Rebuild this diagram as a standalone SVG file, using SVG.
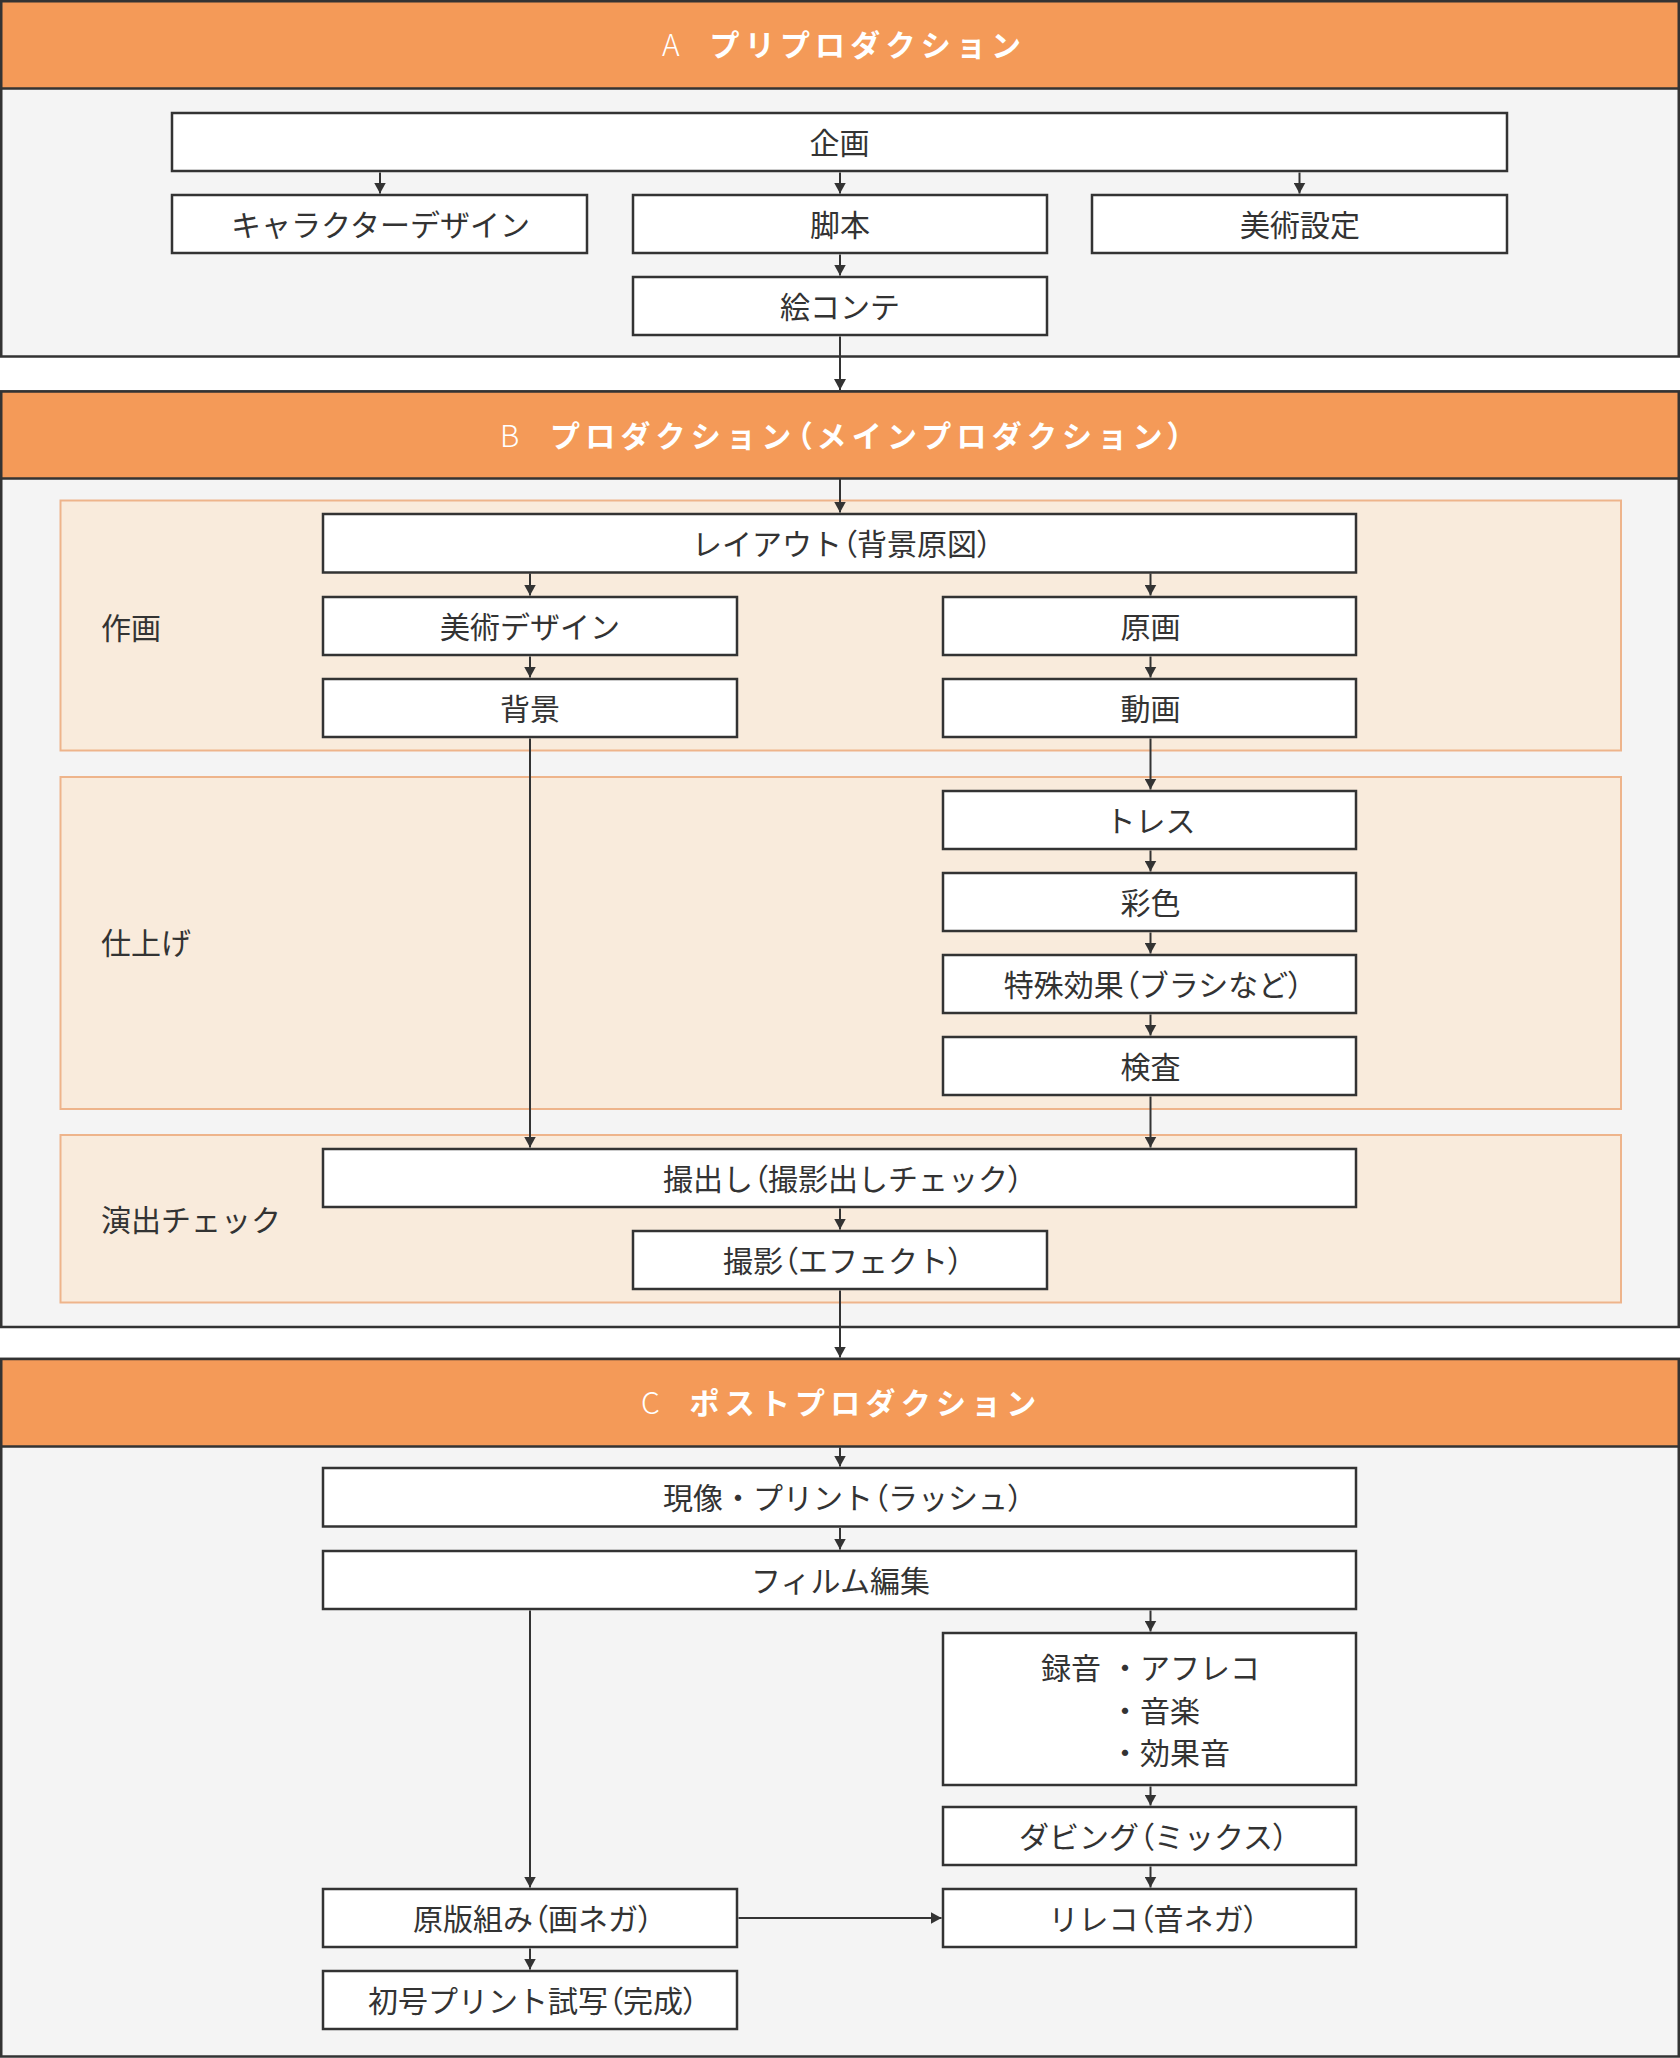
<svg xmlns="http://www.w3.org/2000/svg" width="1680" height="2058" viewBox="0 0 1680 2058">
<defs>
<style>
.frame{fill:#f4f4f4;stroke:#333;stroke-width:2.5}
.head{fill:#f49a58;stroke:#333;stroke-width:2.5}
.band{fill:#f9ebdc;stroke:#eeb48b;stroke-width:2}
.box{fill:#fff;stroke:#333;stroke-width:2.5}
text{font-family:"Noto Sans CJK JP","Noto Sans CJK SC",sans-serif;font-size:30px;fill:#333}
.t{text-anchor:middle;dominant-baseline:central}
.lab{dominant-baseline:central}
.hl{fill:#fff;font-weight:300;dominant-baseline:central}
.hk{fill:#fff;font-weight:700;letter-spacing:5.2px;dominant-baseline:central}
.h{font-feature-settings:"palt"}
.conn path{fill:none;stroke:#333;stroke-width:2;marker-end:url(#arr)}
</style>
<marker id="arr" markerUnits="userSpaceOnUse" markerWidth="12" markerHeight="12" refX="11" refY="6" orient="auto">
<path d="M0,0 L11,6 L0,12 z" fill="#333"/>
</marker>
</defs>

<g id="sectionA">
<rect class="frame" x="1.25" y="1.25" width="1677.5" height="355.25"/>
<rect class="head" x="1.25" y="1.25" width="1677.5" height="87.25"/>
<text class="hl" x="662" y="43">A</text>
<text class="hk" x="709.5" y="43">プリプロダクション</text>
</g>

<g id="sectionB">
<rect class="frame" x="1.25" y="391.5" width="1677.5" height="935.5"/>
<rect class="head" x="1.25" y="391.5" width="1677.5" height="87"/>
<text class="hl" x="500" y="433.5">B</text>
<text class="hk" x="550" y="433.5">プロダクション<tspan class="h">（</tspan>メインプロダクション<tspan class="h">）</tspan></text>
</g>

<g id="sectionC">
<rect class="frame" x="1.25" y="1359" width="1677.5" height="697.5"/>
<rect class="head" x="1.25" y="1359" width="1677.5" height="87.5"/>
<text class="hl" x="641" y="1401">C</text>
<text class="hk" x="689.5" y="1401">ポストプロダクション</text>
</g>

<g id="band-sakuga">
<rect class="band" x="60.5" y="500.5" width="1560.5" height="250"/>
<text class="lab" x="101" y="626">作画</text>
</g>
<g id="band-shiage">
<rect class="band" x="60.5" y="777" width="1560.5" height="332"/>
<text class="lab" x="101" y="941">仕上げ</text>
</g>
<g id="band-enshutsu">
<rect class="band" x="60.5" y="1135" width="1560.5" height="167.5"/>
<text class="lab" x="101" y="1218">演出チェック</text>
</g>

<g id="kikaku"><rect class="box" x="172" y="113" width="1335" height="58"/><text class="t" x="839.5" y="141">企画</text></g>
<g id="chara"><rect class="box" x="172" y="195" width="415" height="58"/><text class="t" x="380.5" y="223">キャラクターデザイン</text></g>
<g id="kyakuhon"><rect class="box" x="633" y="195" width="414" height="58"/><text class="t" x="840" y="223">脚本</text></g>
<g id="bijutsu-settei"><rect class="box" x="1092" y="195" width="415" height="58"/><text class="t" x="1300" y="223">美術設定</text></g>
<g id="ekonte"><rect class="box" x="633" y="277" width="414" height="58"/><text class="t" x="840" y="305">絵コンテ</text></g>

<g id="layout"><rect class="box" x="323" y="514" width="1033" height="58.5"/><text class="t" x="842" y="542">レイアウト<tspan class="h">（</tspan>背景原図<tspan class="h">）</tspan></text></g>
<g id="bijutsu-design"><rect class="box" x="323" y="597" width="414" height="58"/><text class="t" x="530" y="625">美術デザイン</text></g>
<g id="genga"><rect class="box" x="943" y="597" width="413" height="58"/><text class="t" x="1150.5" y="625">原画</text></g>
<g id="haikei"><rect class="box" x="323" y="679" width="414" height="58"/><text class="t" x="530" y="707">背景</text></g>
<g id="douga"><rect class="box" x="943" y="679" width="413" height="58"/><text class="t" x="1150.5" y="707">動画</text></g>
<g id="tore"><rect class="box" x="943" y="791" width="413" height="58"/><text class="t" x="1150.5" y="819">トレス</text></g>
<g id="saishiki"><rect class="box" x="943" y="873" width="413" height="58"/><text class="t" x="1150.5" y="901">彩色</text></g>
<g id="tokushu"><rect class="box" x="943" y="955" width="413" height="58"/><text class="t" x="1153.5" y="983">特殊効果<tspan class="h">（</tspan>ブラシなど<tspan class="h">）</tspan></text></g>
<g id="kensa"><rect class="box" x="943" y="1037" width="413" height="58"/><text class="t" x="1150.5" y="1065">検査</text></g>
<g id="satsudashi"><rect class="box" x="323" y="1149" width="1033" height="58"/><text class="t" x="843" y="1177">撮出し<tspan class="h">（</tspan>撮影出しチェック<tspan class="h">）</tspan></text></g>
<g id="satsuei"><rect class="box" x="633" y="1231" width="414" height="58"/><text class="t" x="843" y="1259">撮影<tspan class="h">（</tspan>エフェクト<tspan class="h">）</tspan></text></g>

<g id="genzou"><rect class="box" x="323" y="1468" width="1033" height="58.5"/><text class="t" x="843" y="1496">現像・プリント<tspan class="h">（</tspan>ラッシュ<tspan class="h">）</tspan></text></g>
<g id="film"><rect class="box" x="323" y="1551" width="1033" height="58"/><text class="t" x="840.5" y="1579">フィルム編集</text></g>
<g id="rokuon"><rect class="box" x="943" y="1633" width="413" height="152"/>
<text class="lab" x="1041" y="1666">録音</text>
<text class="lab" x="1110" y="1666">・アフレコ</text>
<text class="lab" x="1110" y="1708.5">・音楽</text>
<text class="lab" x="1110" y="1751">・効果音</text>
</g>
<g id="dubbing"><rect class="box" x="943" y="1807" width="413" height="58"/><text class="t" x="1153.5" y="1835">ダビング<tspan class="h">（</tspan>ミックス<tspan class="h">）</tspan></text></g>
<g id="rereco"><rect class="box" x="943" y="1889" width="413" height="58"/><text class="t" x="1153.5" y="1917">リレコ<tspan class="h">（</tspan>音ネガ<tspan class="h">）</tspan></text></g>
<g id="genpan"><rect class="box" x="323" y="1889" width="414" height="58"/><text class="t" x="533" y="1917">原版組み<tspan class="h">（</tspan>画ネガ<tspan class="h">）</tspan></text></g>
<g id="shogou"><rect class="box" x="323" y="1971" width="414" height="58"/><text class="t" x="533" y="1999">初号プリント試写<tspan class="h">（</tspan>完成<tspan class="h">）</tspan></text></g>

<g id="connectors" class="conn">
<path d="M380,172.5 V193.5"/>
<path d="M840,172.5 V193.5"/>
<path d="M1299.5,172.5 V193.5"/>
<path d="M840,254.5 V275.5"/>
<path d="M840,336.5 V390"/>
<path d="M840,478.5 V512.5"/>
<path d="M530,573.5 V595.5"/>
<path d="M1150.5,573.5 V595.5"/>
<path d="M530,656.5 V677.5"/>
<path d="M1150.5,656.5 V677.5"/>
<path d="M1150.5,738.5 V789.5"/>
<path d="M1150.5,850.5 V871.5"/>
<path d="M1150.5,932.5 V953.5"/>
<path d="M1150.5,1014.5 V1035.5"/>
<path d="M530,738.5 V1147.5"/>
<path d="M1150.5,1096.5 V1147.5"/>
<path d="M840,1208.5 V1229.5"/>
<path d="M840,1290.5 V1357.5"/>
<path d="M840,1447.5 V1466.5"/>
<path d="M840,1528 V1549.5"/>
<path d="M530,1610.5 V1887.5"/>
<path d="M1150.5,1610.5 V1631.5"/>
<path d="M1150.5,1786.5 V1805.5"/>
<path d="M1150.5,1866.5 V1887.5"/>
<path d="M738.5,1918 H941.5"/>
<path d="M530,1948.5 V1969.5"/>
</g>
</svg>
